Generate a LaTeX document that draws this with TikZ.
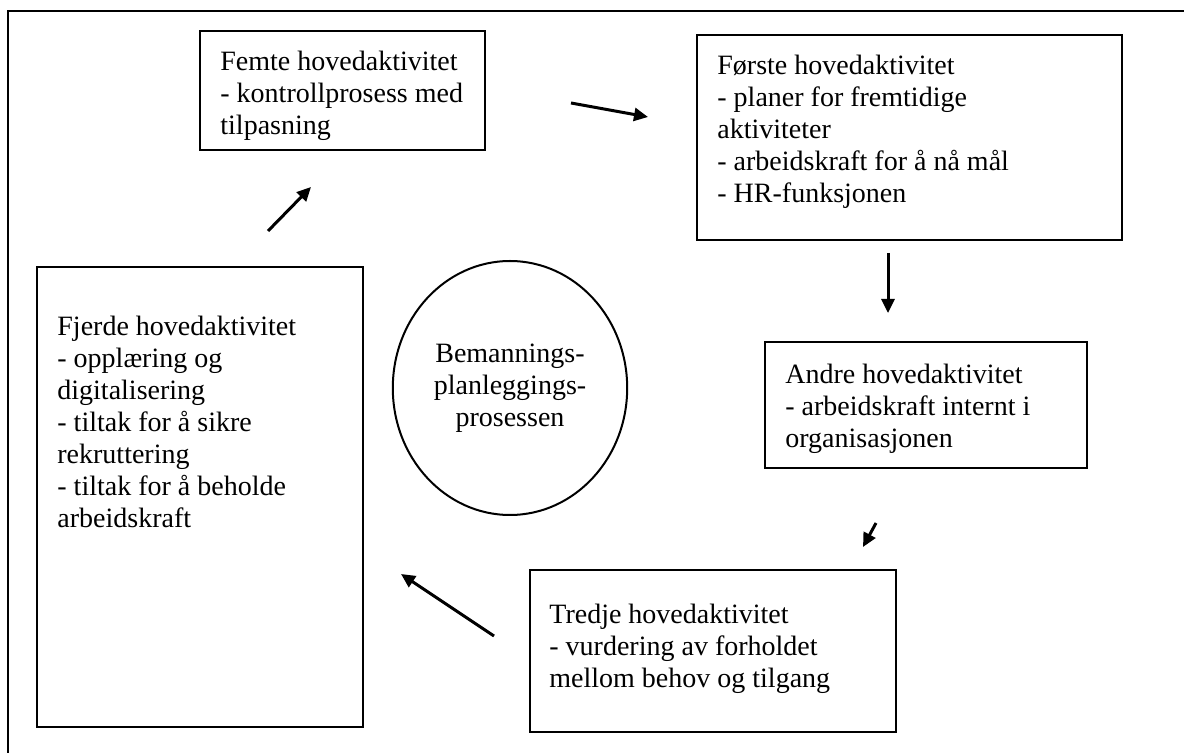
\documentclass[tikz,border=0pt]{standalone}
\usepackage{fontspec}
\setmainfont{Liberation Serif}
\usetikzlibrary{arrows.meta, shapes.geometric, positioning}

\begin{document}
\begin{tikzpicture}[
      x=0.5pt, y=-0.5pt,
      box/.style  = {draw, line width=1pt, inner sep=0pt},
      txt/.style  = {anchor=north west, inner sep=0pt, align=left,
                     font=\fontsize{14pt}{16pt}\selectfont},
      arr/.style  = {-{Triangle[length=7pt, width=6.5pt]}, line width=1.5pt},
    ]
    \useasboundingbox (0,0) rectangle (1184,753);

    % outer frame (only top and left edges visible)
    \draw[line width=1pt] (8,753) -- (8,11) -- (1184,11);

    % boxes
    \node[box, minimum width=142.5pt, minimum height=59.5pt] (femte)  at (342.5,90.5) {};
    \node[box, minimum width=212.5pt, minimum height=102.5pt] (forste) at (909.5,137.5) {};
    \node[box, minimum width=161pt,   minimum height=63pt]   (andre)  at (926,405) {};
    \node[box, minimum width=183pt,   minimum height=81pt]   (tredje) at (713,651) {};
    \node[box, minimum width=163pt,   minimum height=230pt]  (fjerde) at (200,497) {};

    % texts in the boxes
    \node[txt] (femtetxt)  at (220,51)  {Femte hovedaktivitet\\- kontrollprosess med\\tilpasning};
    \node[txt] (forstetxt) at (717,55)  {Første hovedaktivitet\\- planer for fremtidige\\aktiviteter\\- arbeidskraft for å nå mål\\- HR-funksjonen};
    \node[txt] (andretxt)  at (785,364) {Andre hovedaktivitet\\- arbeidskraft internt i\\organisasjonen};
    \node[txt] (tredjetxt) at (549,604) {Tredje hovedaktivitet\\- vurdering av forholdet\\mellom behov og tilgang};
    \node[txt] (fjerdetxt) at (57,316)  {Fjerde hovedaktivitet\\- opplæring og\\digitalisering\\- tiltak for å sikre\\rekruttering\\- tiltak for å beholde\\arbeidskraft};

    % centre
    \node[ellipse, draw, line width=1pt, minimum width=112pt, minimum height=127pt,
          align=center, font=\fontsize{14pt}{16pt}\selectfont] (prosess) at (510,388)
      {Bemannings-\\planleggings-\\prosessen};

    % arrow ends
    \coordinate (a1s) at (571,103);  \coordinate (a1e) at (648,117);
    \coordinate (a2s) at (888,253);  \coordinate (a2e) at (888,313);
    \coordinate (a3s) at (876,523);  \coordinate (a3e) at (863,547);
    \coordinate (a4s) at (494,636);  \coordinate (a4e) at (401,574);
    \coordinate (a5s) at (268,231);  \coordinate (a5e) at (311,187);

    \draw[arr] (a1s) -- (a1e);
    \draw[arr] (a2s) -- (a2e);
    \draw[arr] (a3s) -- (a3e);
    \draw[arr] (a4s) -- (a4e);
    \draw[arr] (a5s) -- (a5e);

  \end{tikzpicture}
\end{document}
